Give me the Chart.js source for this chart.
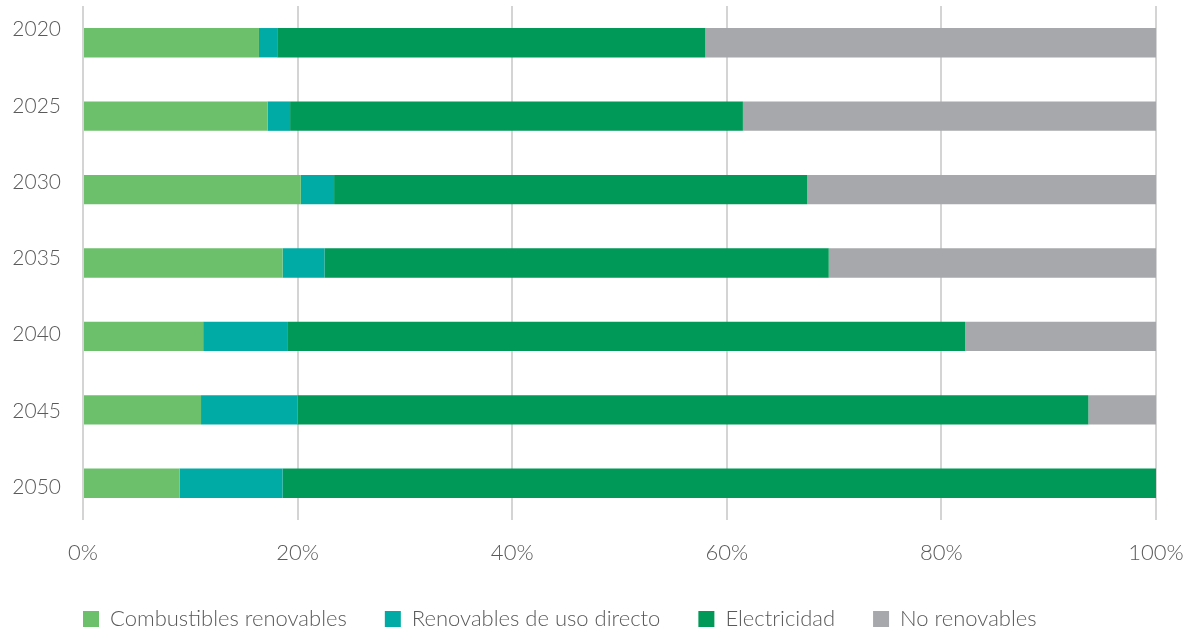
<!DOCTYPE html>
<html>
<head>
<meta charset="utf-8">
<script src="https://cdn.jsdelivr.net/npm/chart.js@4/dist/chart.umd.min.js"></script>
<style>
  html, body { margin: 0; padding: 0; background: #fff; }
  #wrap { width: 1200px; height: 634px; position: relative; }
</style>
</head>
<body>
<div id="wrap"><canvas id="chart"></canvas></div>
<script>
// años y porcentajes
const years = ['2020', '2025', '2030', '2035', '2040', '2045', '2050']
const combustibles = [16.4, 17.2, 20.3, 18.6, 11.2, 11.0, 9.0]
const renovablesDirecto = [1.7, 2.1, 3.1, 3.9, 7.9, 9.0, 9.6]
const electricidad = [39.9, 42.2, 44.1, 47.0, 63.1, 73.7, 81.4]
const noRenovables = [42.0, 38.5, 32.5, 30.5, 17.8, 6.3, 0]
const xTicks = [0, 20, 40, 60, 80, 100]

const textColor = '#5a5a5a'
const fontFamily = 'Lato, "Open Sans", sans-serif'

var ctx = document.getElementById('chart').getContext('2d');

// legend: fixed height, and first item lined up with the plot's left edge
const legendPos = {
    id: 'legendPos',
    afterInit(chart) {
        const legend = chart.legend
        const fit = legend.fit
        legend.fit = function() {
            fit.call(legend)
            legend.height = 64
        }
    },
    afterLayout(chart) {
        chart.legend.left = 45
    }
}

var myChart = new Chart(ctx, {
    type: 'bar',
    data: {
        labels: years,
        datasets: [
            { label: 'Combustibles renovables', data: combustibles, backgroundColor: '#6cc06b' },
            { label: 'Renovables de uso directo', data: renovablesDirecto, backgroundColor: '#00aba5' },
            { label: 'Electricidad', data: electricidad, backgroundColor: '#009957' },
            { label: 'No renovables', data: noRenovables, backgroundColor: '#a7a8ab' }
        ]
    },
    plugins: [legendPos],
    options: {
        indexAxis: 'y',
        responsive: true,
        maintainAspectRatio: false,
        animation: false,
        layout: { padding: { top: 6, right: 44, left: 0, bottom: 0 } },
        datasets: {
            bar: { categoryPercentage: 0.8, barPercentage: 0.5, borderWidth: 0 }
        },
        plugins: {
            tooltip: { enabled: false },
            legend: {
                position: 'bottom',
                align: 'start',
                labels: {
                    boxWidth: 16,
                    boxHeight: 16,
                    padding: 38,
                    color: textColor,
                    font: { family: fontFamily, size: 22, weight: 300 }
                }
            }
        },
        scales: {
            x: {
                stacked: true,
                min: 0,
                max: 100,
                afterBuildTicks: (axis) => { axis.ticks = xTicks.map(v => ({ value: v })) },
                afterFit: (scale) => {
                    scale.height = 50
                    scale.paddingLeft = 0
                    scale.paddingRight = 0
                },
                ticks: {
                    callback: (v) => v + '%',
                    color: textColor,
                    padding: 20,
                    font: { family: fontFamily, size: 22, weight: 300 }
                },
                grid: { color: '#d4d4d4', lineWidth: 2, drawTicks: false },
                border: { display: false }
            },
            y: {
                stacked: true,
                display: false
            },
            // year labels: in the original they sit on a slightly wider pitch than the bars
            yLabels: {
                type: 'linear',
                position: 'left',
                reverse: true,
                offset: false,
                bounds: 'data',
                afterBuildTicks: (axis) => {
                    axis.min = -0.31
                    axis.max = 6.43
                    axis.ticks = years.map((y, i) => ({ value: i }))
                },
                afterFit: (scale) => {
                    scale.width = 83
                    scale.paddingTop = 0
                    scale.paddingBottom = 0
                },
                ticks: {
                    callback: (v) => years[v],
                    color: textColor,
                    padding: 22,
                    font: { family: fontFamily, size: 21, weight: 300 }
                },
                grid: { display: false, drawTicks: false },
                border: { display: false }
            }
        }
    }
});
</script>
</body>
</html>
